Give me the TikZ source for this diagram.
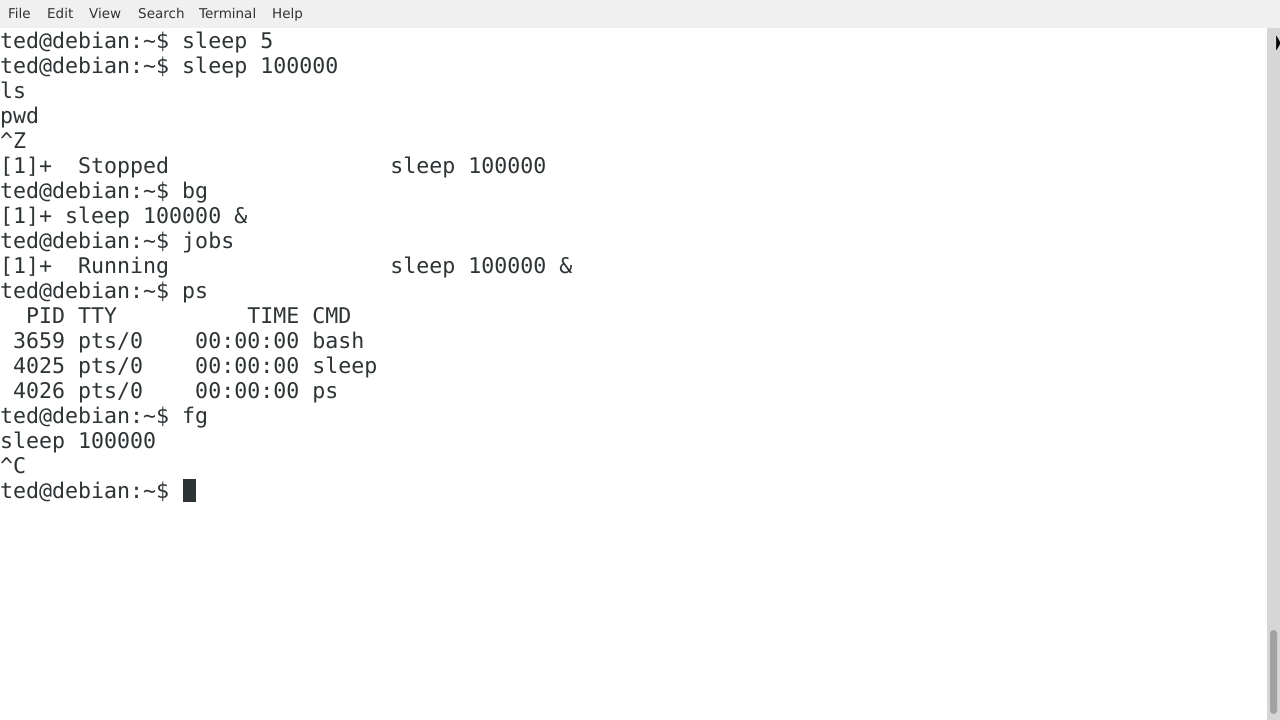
\documentclass[tikz,border=0pt]{standalone}
\usepackage{fontspec}
\setmonofont{DejaVu Sans Mono}
\newfontfamily\menufont{DejaVu Sans}
\definecolor{term}{HTML}{2E3436}
\definecolor{menubg}{HTML}{F0F0F0}
\begin{document}
\begin{tikzpicture}[x=1pt,y=-1pt,
  ln/.style={anchor=base west,inner sep=0pt,font=\ttfamily\fontsize{21.6}{25}\selectfont,text=term},
  mn/.style={anchor=base west,inner sep=0pt,font=\menufont\fontsize{13.5}{16}\selectfont,text=black!80}]
\useasboundingbox (0,0) rectangle (1280,720);
\fill[white] (0,0) rectangle (1280,720);
\fill[menubg] (0,0) rectangle (1280,28);
\node[mn] (m1) at (8,19) {File};
\node[mn] (m2) at (47,19) {Edit};
\node[mn] (m3) at (89,19) {View};
\node[mn] (m4) at (138,19) {Search};
\node[mn] (m5) at (199,19) {Terminal};
\node[mn] (m6) at (272,19) {Help};
\fill[black!16] (1267,28) rectangle (1280,720);
\fill[black!37,rounded corners=3.5pt] (1270,630) rectangle (1277,714);
\draw[white,fill=black] (1276,34) -- (1281,43) -- (1276,52) -- cycle;
\foreach \i/\t in {1/{ted@debian:\string~\$ sleep 5},
  2/{ted@debian:\string~\$ sleep 100000},
  3/{ls},4/{pwd},5/{\string^Z},
  6/{[1]+\ \ Stopped\ \ \ \ \ \ \ \ \ \ \ \ \ \ \ \ \ sleep 100000},
  7/{ted@debian:\string~\$ bg},
  8/{[1]+ sleep 100000 \&},
  9/{ted@debian:\string~\$ jobs},
  10/{[1]+\ \ Running\ \ \ \ \ \ \ \ \ \ \ \ \ \ \ \ \ sleep 100000 \&},
  11/{ted@debian:\string~\$ ps},
  12/{\ \ PID TTY\ \ \ \ \ \ \ \ \ \ TIME CMD},
  13/{\ 3659 pts/0\ \ \ \ 00:00:00 bash},
  14/{\ 4025 pts/0\ \ \ \ 00:00:00 sleep},
  15/{\ 4026 pts/0\ \ \ \ 00:00:00 ps},
  16/{ted@debian:\string~\$ fg},
  17/{sleep 100000},18/{\string^C},
  19/{ted@debian:\string~\$}}
  \node[ln] (l\i) at (0,{48+25*(\i-1)}) {\t};
\fill[term] (183,479) rectangle (196,502);
\end{tikzpicture}
\end{document}
